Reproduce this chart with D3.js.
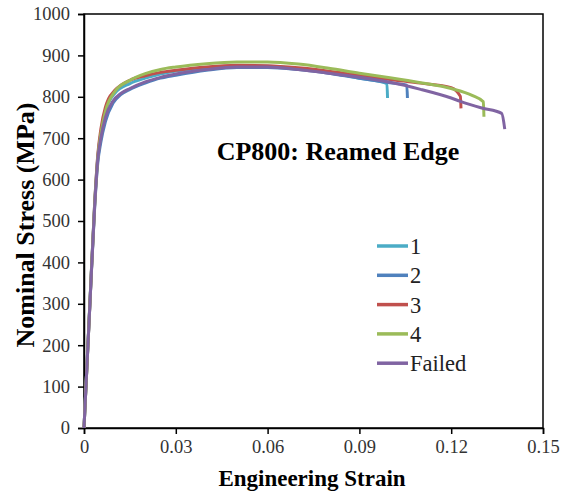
<!DOCTYPE html>
<html lang="en">
<head>
<meta charset="UTF-8">
<title>CP800: Reamed Edge</title>
<script src="https://d3js.org/d3.v7.min.js"></script>
<style>
  body { margin: 0; background: #fff; }
  svg { display: block; }
  svg text { font-family: "Liberation Serif", "Times New Roman", serif; }
</style>
</head>
<body>
<svg id="chart" width="563" height="494"></svg>
<script>
// tick values
const xTicks = [0, 0.03, 0.06, 0.09, 0.12, 0.15];
const yTicks = [0, 100, 200, 300, 400, 500, 600, 700, 800, 900, 1000];

// series names + colours (excel style)
const seriesNames = ["1", "2", "3", "4", "Failed"];
const seriesColors = ["#4bacc6", "#4f81bd", "#c0504d", "#9bbb59", "#8064a2"];

// [strain, stress MPa]
const test1 = [[0,0],[0.002,315],[0.0035,545],[0.0045,655],[0.0055,712],[0.007,765],[0.01,808],[0.015,832],[0.02,845],[0.025,855],[0.03,862],[0.04,870],[0.05,875],[0.06,874],[0.07,868],[0.08,858],[0.09,845],[0.099,832],[0.0992,797]];
const test2 = [[0,0],[0.002,310],[0.0035,535],[0.0045,640],[0.0055,690],[0.007,740],[0.0095,785],[0.012,805],[0.015,818],[0.02,833],[0.025,845],[0.03,852],[0.04,864],[0.05,871],[0.06,871],[0.07,866],[0.08,857],[0.09,845],[0.1,834],[0.1055,828],[0.1057,797]];
const test3 = [[0,0],[0.002,312],[0.0035,545],[0.0045,660],[0.0055,722],[0.007,775],[0.008,795],[0.01,815],[0.015,840],[0.02,851],[0.025,859],[0.03,864],[0.04,872],[0.05,876],[0.06,875],[0.07,870],[0.08,862],[0.09,852],[0.1,842],[0.11,833],[0.12,822],[0.123,801],[0.1232,772]];
const test4 = [[0,0],[0.002,312],[0.0035,542],[0.0045,652],[0.0055,710],[0.007,765],[0.01,812],[0.015,840],[0.02,856],[0.025,866],[0.03,872],[0.04,880],[0.05,884],[0.06,884],[0.07,879],[0.08,869],[0.09,857],[0.1,846],[0.11,834],[0.12,820],[0.127,803],[0.1305,788],[0.1307,752]];
const failed = [[0,0],[0.002,310],[0.0035,538],[0.0045,648],[0.0055,700],[0.007,750],[0.0095,790],[0.012,808],[0.015,820],[0.02,836],[0.025,847],[0.03,855],[0.04,866],[0.05,872],[0.06,872],[0.07,866],[0.08,857],[0.09,847],[0.1,835],[0.11,818],[0.12,797],[0.123,789],[0.13,773],[0.1365,760],[0.1375,722]];
const allSeries = [test1, test2, test3, test4, failed];

const svg = d3.select("#chart");
const plotL = 84, plotR = 543, plotT = 14, plotB = 428;

const x = d3.scaleLinear().domain([0, 0.15]).range([plotL, plotR]);
const y = d3.scaleLinear().domain([0, 1000]).range([plotB, plotT]);

// frame (top + right border)
svg.append("rect")
    .attr("x", plotL).attr("y", plotT)
    .attr("width", plotR - plotL).attr("height", plotB - plotT)
    .attr("fill", "none").attr("stroke", "#000").attr("stroke-width", 1.5);

// axes
const xAxis = svg.append("g")
    .attr("transform", `translate(0,${plotB})`)
    .call(d3.axisBottom(x).tickValues(xTicks).tickSize(6).tickPadding(6)
        .tickFormat(d => d === 0 ? "0" : d3.format(".2f")(d)));
const yAxis = svg.append("g")
    .attr("transform", `translate(${plotL},0)`)
    .call(d3.axisLeft(y).tickValues(yTicks).tickSize(6).tickPadding(8)
        .tickFormat(d3.format("d")));

[xAxis, yAxis].forEach(g => {
    g.attr("font-family", null);
    g.select(".domain").attr("stroke", "#000").attr("stroke-width", 1.5);
    g.selectAll(".tick line").attr("stroke", "#000").attr("stroke-width", 1.5);
    g.selectAll(".tick text")
        .style("font-size", "18.5px").attr("fill", "#333");
});

// curves
const line = d3.line()
    .x(d => x(d[0])).y(d => y(d[1]))
    .curve(d3.curveMonotoneX);

allSeries.forEach((data, i) => {
    svg.append("path")
        .datum(data)
        .attr("d", line)
        .attr("fill", "none")
        .attr("stroke", seriesColors[i])
        .attr("stroke-width", 3)
        .attr("stroke-linejoin", "round");
});

// title inside plot
svg.append("text")
    .attr("x", 338).attr("y", 160)
    .attr("text-anchor", "middle")
    .attr("font-weight", "bold").style("font-size", "26px")
    .text("CP800: Reamed Edge");

// legend
const legend = svg.append("g");
seriesNames.forEach((name, i) => {
    const ly = 246 + i * 29.3;
    legend.append("line")
        .attr("x1", 377).attr("x2", 408)
        .attr("y1", ly).attr("y2", ly)
        .attr("stroke", seriesColors[i]).attr("stroke-width", 3.5);
    legend.append("text")
        .attr("x", 410).attr("y", ly + 8)
        .style("font-size", "22.5px").attr("fill", "#222")
        .text(name);
});

// axis titles
svg.append("text")
    .attr("x", 312).attr("y", 486)
    .attr("text-anchor", "middle")
    .attr("font-weight", "bold").style("font-size", "23px")
    .text("Engineering Strain");

svg.append("text")
    .attr("transform", "translate(34,225) rotate(-90)")
    .attr("text-anchor", "middle")
    .attr("font-weight", "bold").style("font-size", "26px")
    .text("Nominal Stress (MPa)");
</script>
</body>
</html>
